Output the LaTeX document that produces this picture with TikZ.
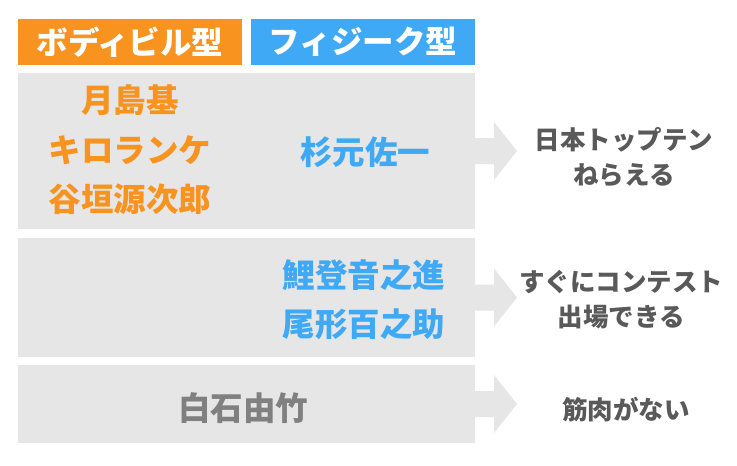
\documentclass[tikz,border=0pt]{standalone}
\usepackage{fontspec}
\setmainfont{Noto Sans CJK JP}
\definecolor{orng}{HTML}{F7931E}
\definecolor{blu}{HTML}{3FA9F5}
\definecolor{boxg}{HTML}{E6E6E6}
\definecolor{txtg}{HTML}{595959}
\definecolor{midg}{HTML}{808080}
\tikzset{
  hdrbox/.style={minimum width=224pt, minimum height=46pt, inner sep=0pt, text=white, font=\bfseries\fontsize{31.5}{34}\selectfont},
  rowbox/.style={fill=boxg, inner sep=0pt, minimum width=457pt},
  persontext/.style={inner sep=0pt, align=center, font=\bfseries\fontsize{32.5}{49.5}\selectfont},
  restext/.style={inner sep=0pt, align=center, text=txtg, font=\bfseries\fontsize{25.5}{35}\selectfont},
  arrshape/.style={fill=boxg}
}
\begin{document}
\begin{tikzpicture}[x=1pt,y=-1pt]
\useasboundingbox (0,0) rectangle (737,466);
\fill[white] (0,0) rectangle (737,466);
% headers
\node[hdrbox, fill=orng] (hb) at (130,42) {ボディビル型};
\node[hdrbox, fill=blu] (hp) at (363,42) {フィジーク型};
% row boxes
\node[rowbox, minimum height=156pt] (r1) at (246.5,151) {};
\node[rowbox, minimum height=119pt] (r2) at (246.5,297.5) {};
\node[rowbox, minimum height=78pt] (r3) at (246.5,404) {};
% arrows
\foreach \c in {151, 297.5, 404}{
  \fill[arrshape] (475,\c-13) -- (494,\c-13) -- (494,\c-29) -- (517,\c) -- (494,\c+29) -- (494,\c+13) -- (475,\c+13) -- cycle;
}
% names
\node[persontext, text=orng] (bb) at (130,150) {月島基\\キロランケ\\谷垣源次郎};
\node[persontext, text=blu] (p1) at (365,152) {杉元佐一};
\node[persontext, text=blu] (p2) at (364,300) {鯉登音之進\\尾形百之助};
\node[persontext, text=midg] (sh) at (243,408) {白石由竹};
% results
\node[restext] (o1) at (624,157) {日本トップテン\\ねらえる};
\node[restext] (o2) at (621,300) {すぐにコンテスト\\出場できる};
\node[restext] (o3) at (626,410) {筋肉がない};
\end{tikzpicture}
\end{document}
